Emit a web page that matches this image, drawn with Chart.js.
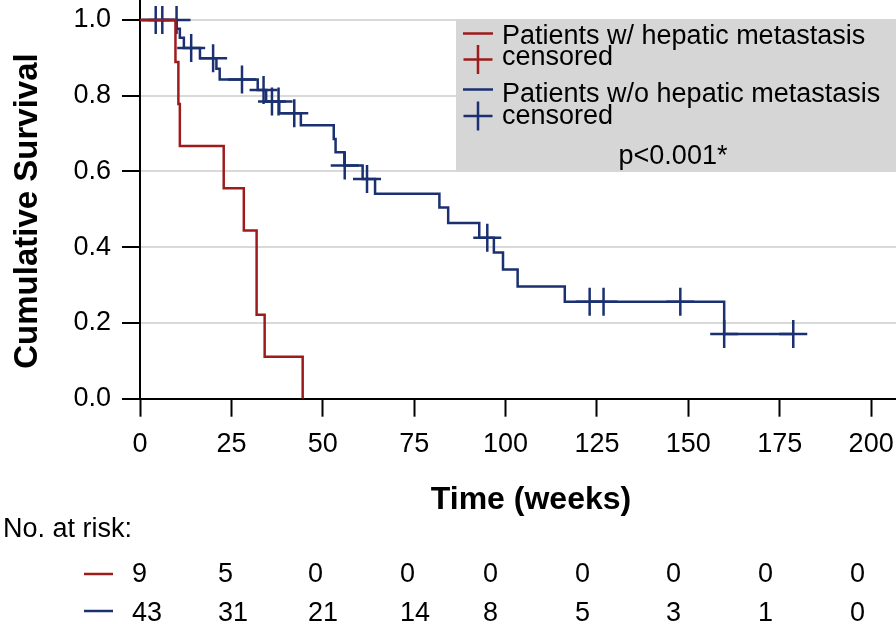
<!DOCTYPE html>
<html>
<head>
<meta charset="utf-8">
<style>
  body { margin: 0; background: #fff; }
  canvas { display: block; }
</style>
</head>
<body>
<canvas id="kmChart" width="896" height="628"></canvas>
<script src="https://cdn.jsdelivr.net/npm/chart.js@4"></script>
<script>
// steps: time in weeks, survival after the event
const redTimes = [0, 9.7, 10.5, 10.9, 22.9, 28.4, 31.9, 34.1, 44.5];
const redSurv  = [1, 0.889, 0.778, 0.667, 0.556, 0.444, 0.222, 0.111, 0];

const blueTimes = [0, 10.0, 10.9, 12.0, 16.4, 20.9, 21.8, 32.2, 34.5, 38.1, 44.0, 53.0, 53.5, 55.9,
                   60.9, 64.3, 81.9, 84.3, 92.8, 96.8, 99.3, 103.3, 116.2, 159.8, 178.7];
const blueSurv  = [1, 0.977, 0.953, 0.926, 0.899, 0.871, 0.843, 0.815, 0.785, 0.754, 0.722, 0.686, 0.651, 0.616,
                   0.580, 0.541, 0.505, 0.464, 0.425, 0.386, 0.341, 0.296, 0.256, 0.171, 0.171];

const blueCensorTimes = [4.3, 6.1, 10.0, 14.0, 20.0, 27.9, 33.8, 36.1, 37.9, 42.2, 56.0, 62.1, 95.0,
                         123.0, 126.8, 147.8, 159.8, 178.7];
const blueCensorSurv  = [1, 1, 1, 0.926, 0.899, 0.843, 0.815, 0.785, 0.785, 0.754, 0.616, 0.580, 0.425,
                         0.256, 0.256, 0.256, 0.171, 0.171];

const xTicks = [0, 25, 50, 75, 100, 125, 150, 175, 200];
const yTicks = [0, 0.2, 0.4, 0.6, 0.8, 1.0];

// number at risk at each x tick
const riskRed  = [9, 5, 0, 0, 0, 0, 0, 0, 0];
const riskBlue = [43, 31, 21, 14, 8, 5, 3, 1, 0];

const groupLabels = ['Patients w/ hepatic metastasis', 'Patients w/o hepatic metastasis'];
const pValueText = 'p<0.001*';

const RED = '#9e1b1b';
const BLUE = '#1a3070';
const FONT = "'Liberation Sans', Arial, sans-serif";

function points(xs, ys) {
    return xs.map((x, i) => ({ x: x, y: ys[i] }));
}

function drawCross(ctx, x, y, r, color) {
    ctx.strokeStyle = color;
    ctx.lineWidth = 2.5;
    ctx.beginPath();
    ctx.moveTo(x - r, y); ctx.lineTo(x + r, y);
    ctx.moveTo(x, y - r); ctx.lineTo(x, y + r);
    ctx.stroke();
}

function drawDash(ctx, x1, x2, y, color) {
    ctx.strokeStyle = color;
    ctx.lineWidth = 2.5;
    ctx.beginPath();
    ctx.moveTo(x1, y); ctx.lineTo(x2, y);
    ctx.stroke();
}

// titles, legend box and the number-at-risk table
const extras = {
    id: 'extras',
    afterDraw(chart) {
        const ctx = chart.ctx;
        ctx.save();
        ctx.fillStyle = '#000';

        // axis titles
        ctx.font = 'bold 32px ' + FONT;
        ctx.textAlign = 'center';
        ctx.textBaseline = 'alphabetic';
        ctx.fillText('Time (weeks)', 531, 509);
        ctx.save();
        ctx.font = 'bold 33px ' + FONT;
        ctx.translate(37, 211);
        ctx.rotate(-Math.PI / 2);
        ctx.fillText('Cumulative Survival', 0, 0);
        ctx.restore();

        // legend
        ctx.fillStyle = '#d6d6d6';
        ctx.fillRect(456, 19.5, 440, 152);
        drawDash(ctx, 463, 493, 33.5, RED);
        drawCross(ctx, 478, 59.5, 14.5, RED);
        drawDash(ctx, 463, 493, 89.5, BLUE);
        drawCross(ctx, 478, 116, 14.5, BLUE);
        ctx.fillStyle = '#000';
        ctx.font = '27px ' + FONT;
        ctx.textAlign = 'left';
        ctx.fillText(groupLabels[0], 502, 43.5);
        ctx.fillText('censored', 502, 65);
        ctx.fillText(groupLabels[1], 502, 101.5);
        ctx.fillText('censored', 502, 123.5);
        ctx.textAlign = 'center';
        ctx.fillText(pValueText, 673, 163.5);

        // number at risk
        const colX = [132, 218, 308, 400, 483, 575, 666, 758, 850];
        ctx.textAlign = 'left';
        ctx.fillText('No. at risk:', 3, 536.5);
        drawDash(ctx, 84, 113, 574, RED);
        drawDash(ctx, 84, 113, 611, BLUE);
        ctx.fillStyle = '#000';
        riskRed.forEach((n, i) => ctx.fillText(String(n), colX[i], 581.5));
        riskBlue.forEach((n, i) => ctx.fillText(String(n), colX[i], 620.5));
        ctx.restore();
    }
};

new Chart(document.getElementById('kmChart').getContext('2d'), {
    type: 'scatter',
    data: {
        datasets: [{
            label: groupLabels[0],
            data: points(redTimes, redSurv),
            showLine: true,
            stepped: 'before',
            borderColor: RED,
            borderWidth: 2.5,
            pointRadius: 0
        }, {
            label: groupLabels[1],
            data: points(blueTimes, blueSurv),
            showLine: true,
            stepped: 'before',
            borderColor: BLUE,
            borderWidth: 2.5,
            pointRadius: 0
        }, {
            label: 'censored',
            data: points(blueCensorTimes, blueCensorSurv),
            showLine: false,
            pointStyle: 'cross',
            pointRadius: 14,
            pointBorderWidth: 2.5,
            borderColor: BLUE,
            backgroundColor: BLUE
        }]
    },
    options: {
        responsive: false,
        animation: false,
        devicePixelRatio: 1,
        layout: { padding: 0, autoPadding: false },
        plugins: { legend: { display: false }, tooltip: { enabled: false } },
        scales: {
            x: {
                type: 'linear',
                min: 0,
                max: 206.8,
                afterBuildTicks: s => { s.ticks = xTicks.map(v => ({ value: v })); },
                afterFit: s => { s.height = 229.3; s.paddingLeft = 0; s.paddingRight = 0; },
                ticks: { color: '#000', font: { family: FONT, size: 27 }, padding: 12, maxRotation: 0, autoSkip: false },
                grid: { drawOnChartArea: false, tickColor: '#000', tickLength: 18, tickWidth: 2 },
                border: { color: '#000', width: 2 }
            },
            y: {
                min: 0,
                max: 1.0528,
                afterBuildTicks: s => { s.ticks = yTicks.map(v => ({ value: v })); },
                afterFit: s => { s.width = 140; s.paddingTop = 0; s.paddingBottom = 0; },
                ticks: { color: '#000', font: { family: FONT, size: 27 }, padding: 11, callback: v => v.toFixed(1) },
                grid: { color: '#d9d9d9', lineWidth: 2, tickColor: '#000', tickLength: 18, tickWidth: 2 },
                border: { color: '#000', width: 2 }
            }
        }
    },
    plugins: [extras]
});
</script>
</body>
</html>
